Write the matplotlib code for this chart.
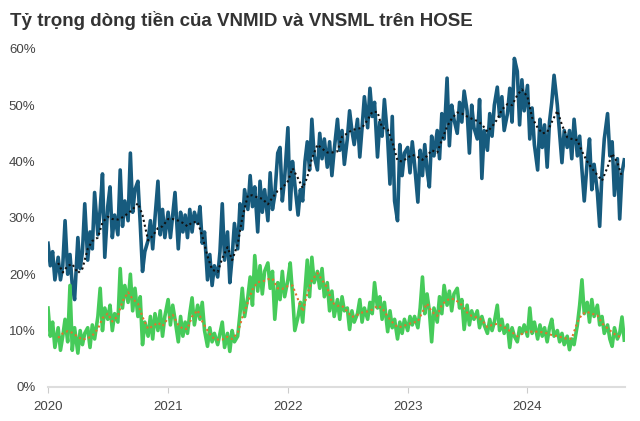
import pandas as pd
import numpy as np
import matplotlib.pyplot as plt
import matplotlib.dates as mdates
from matplotlib.ticker import FuncFormatter

plt.rcParams['font.family'] = ['Liberation Sans', 'DejaVu Sans']

# Ty trong dong tien VNMID / VNSML (%), 4 diem moi thang, T1/2020 -> T10/2024
vnmid = [
    25.5, 21.5, 24.0, 19.0,  23.0, 19.0, 21.5, 29.5,  20.0, 23.5, 18.0, 15.5,
    26.5, 21.0, 24.0, 32.5,  22.5, 27.5, 24.5, 34.5,  27.0, 31.5, 37.8, 23.0,
    32.0, 35.5, 26.5, 30.5,  27.0, 38.5, 28.5, 33.0,  29.5, 41.5, 31.0, 35.0,
    36.5, 29.0, 20.5, 24.0,  26.0, 29.5, 24.5, 30.0,  36.5, 27.0, 31.5, 26.5,
    31.0, 26.5, 30.5, 34.5,  24.5, 31.0, 27.5, 30.5,  26.5, 31.5, 27.5, 31.0,
    29.0, 32.0, 25.5, 27.5,  19.0, 23.5, 18.0, 21.5,  19.5, 24.0, 32.5, 22.5,
    27.5, 18.5, 23.0, 29.0,  24.5, 32.5, 28.0, 35.0,  31.5, 37.5, 32.0, 35.5,
    27.5, 36.5, 31.0, 35.0,  29.5, 38.0, 31.5, 34.0,  41.5, 42.5, 33.0, 37.0,
    46.0, 31.5, 40.0, 36.0,  30.5, 35.0, 33.0, 40.0,  43.5, 38.5, 47.5, 41.0,
    38.5, 45.0, 40.5, 44.0,  39.0, 43.5, 37.5, 42.0,  47.5, 42.0, 45.5, 39.5,
    44.0, 49.0, 45.5, 43.0,  47.5, 40.8, 46.0, 51.5,  46.0, 53.0, 48.0, 50.5,
    40.8, 47.0, 44.5, 51.0,  44.0, 36.0, 48.0, 33.0,  29.5, 43.0, 37.5, 41.5,
    42.5, 38.0, 43.5, 39.5,  32.8, 42.0, 37.5, 43.0,  38.5, 35.5, 44.5, 41.0,
    45.5, 40.5, 48.5, 44.0,  54.8, 42.8, 50.0, 47.5,  45.0, 50.5, 47.0, 52.5,
    49.0, 41.5, 50.0, 46.0,  44.0, 51.0, 37.0, 45.5,  42.0, 48.5, 44.5, 50.0,
    53.2, 48.0, 51.5, 45.5,  48.5, 53.0, 47.0, 58.3,  56.0, 46.5, 54.5, 49.0,
    53.5, 44.0, 49.5, 43.0,  38.5, 47.5, 42.5, 46.5,  39.0, 47.0, 50.5, 55.3,
    50.0, 45.0, 39.8, 45.5,  42.5, 45.5, 40.5, 47.5,  41.0, 44.5, 38.5, 33.0,
    40.0, 44.0, 35.0, 39.5,  34.5, 28.5, 38.0, 44.0,  48.5, 41.0, 43.5, 34.0,
    40.5, 29.8, 38.0, 40.3,
]
vnsml = [
    14.0, 9.0, 11.5, 7.0,  10.5, 6.5, 9.0, 12.0,  8.0, 18.0, 6.5, 10.5,
    6.0, 10.0, 7.5, 9.5,  10.5, 7.0, 11.0, 8.5,  12.5, 17.5, 10.0, 14.0,
    12.0, 14.5, 10.0, 13.0,  11.5, 21.0, 14.0, 18.0,  15.0, 20.0, 13.5, 17.5,
    12.5, 16.0, 7.5, 11.5,  9.0, 12.5, 8.5, 13.0,  10.0, 13.5, 9.0, 12.5,
    15.5, 11.0, 14.5, 12.0,  8.0, 12.5, 9.0, 11.5,  9.5, 13.0, 15.8, 11.0,
    14.5, 12.0, 15.0, 10.0,  7.2, 10.5, 8.0, 9.5,  7.5, 9.5, 11.5, 7.0,
    9.5, 6.3, 10.0, 8.0,  9.0, 13.0, 17.5, 12.5,  16.0, 19.5, 14.5, 23.3,
    17.0, 21.5, 16.5, 20.5,  22.0, 17.5, 20.5, 12.0,  18.5, 15.5, 20.5, 16.0,
    19.0, 22.0, 16.5, 10.0,  12.5, 15.0, 11.5, 17.0,  22.5, 16.0, 23.0, 18.5,
    20.5, 17.5, 21.0, 16.0,  18.5, 13.5, 17.0, 12.5,  15.5, 12.0, 16.0, 13.5,
    14.0, 10.2, 13.5, 11.5,  13.0, 15.5, 11.5, 14.0,  12.0, 15.0, 13.0, 18.5,
    14.0, 16.0, 12.0, 15.0,  9.8, 13.5, 10.5, 12.0,  8.5, 11.5, 9.5, 12.0,
    10.0, 12.5, 11.0, 12.5,  10.5, 14.0, 19.5, 13.0,  16.5, 13.5, 8.0, 14.0,
    11.5, 16.0, 13.0, 18.0,  14.5, 17.0, 13.5, 16.5,  17.5, 14.0, 15.5, 10.2,
    14.5, 11.0, 13.5, 12.0,  13.5, 10.5, 12.5, 11.0,  9.5, 12.0, 10.0, 11.5,
    14.5, 10.0, 12.0, 9.5,  11.0, 7.0, 10.5, 9.0,  8.0, 10.5, 9.5, 11.0,
    9.0, 14.0, 9.5, 11.5,  8.5, 11.0, 9.0, 10.5,  8.0, 10.5, 12.0, 9.0,
    10.0, 8.0, 9.5, 7.5,  9.0, 6.6, 8.5, 7.5,  11.0, 14.5, 19.0, 13.0,
    15.0, 11.5, 15.5, 12.5,  14.5, 11.0, 12.5, 9.5,  11.0, 8.5, 7.2, 10.5,
    8.5, 9.5, 12.4, 8.3,
]

# Duong trung binh (2 diem moi thang, T2/2020 -> T10/2024)
vnmid_ma = [
    22.0, 20.3, 21.5, 21.8, 20.2, 21.0, 24.5, 25.9, 26.5, 29.2, 30.2, 29.8,
    29.7, 30.1, 30.8, 31.5, 32.6, 30.5, 26.0, 26.8, 28.2, 28.5,
    29.8, 29.8, 29.5, 29.1, 28.5, 29.2, 29.3, 26.8, 23.2, 20.8, 20.4, 22.8,
    24.8, 22.5, 25.3, 30.0, 34.0, 34.0, 33.6, 33.4, 32.4, 33.6, 34.8, 35.3,
    36.5, 38.8, 37.0, 35.3, 37.2, 40.5, 43.0, 42.3, 41.6, 41.6, 41.8, 44.4,
    45.0, 45.6, 45.8, 46.0, 47.4, 48.8, 48.8, 46.0, 45.7, 43.5, 40.2, 40.0,
    40.7, 41.2, 40.8, 40.3, 41.0, 42.0, 41.6, 43.8, 46.2, 47.6, 48.7, 48.5,
    48.0, 47.6, 47.2, 46.6, 45.3, 46.2, 47.5, 49.2, 50.2, 50.0, 51.8, 52.8,
    51.5, 47.8, 46.0, 45.0, 45.2, 47.0, 49.0, 46.5, 44.3, 44.0, 43.8, 41.8,
    40.0, 38.8, 37.6, 36.6, 39.0, 41.4, 39.8, 37.3,
]
vnsml_ma = [
    8.7, 9.5, 9.9, 9.6, 8.9, 8.4, 8.6, 9.1, 10.3, 12.2, 13.0, 11.6,
    12.6, 15.2, 16.8, 15.6, 14.8, 12.4, 10.3, 10.8, 11.4, 10.8,
    12.2, 12.8, 11.0, 10.3, 10.3, 12.5, 13.6, 11.6, 10.0, 8.8, 8.4, 8.4,
    8.9, 8.5, 9.6, 12.3, 15.0, 17.3, 18.6, 18.7, 19.1, 19.2, 17.5, 17.4,
    17.9, 18.0, 15.5, 13.4, 16.5, 18.9, 20.2, 19.0, 17.6, 15.0, 14.4, 14.4,
    13.4, 12.4, 12.8, 13.2, 13.4, 13.7, 14.4, 14.0, 12.5, 11.5, 10.6, 10.7,
    11.1, 11.4, 11.6, 13.3, 14.8, 13.4, 12.6, 14.6, 15.4, 15.7, 15.2, 14.5,
    13.2, 12.6, 12.3, 11.9, 10.6, 11.0, 11.2, 10.8, 10.2, 9.7, 9.0, 9.4,
    9.8, 9.8, 9.8, 9.7, 9.5, 9.2, 9.0, 8.8, 8.5, 8.6, 11.5, 12.9,
    13.3, 13.0, 12.7, 11.3, 10.4, 9.7, 9.0, 8.9,
]

months = pd.date_range('2020-01-01', '2024-10-01', freq='MS')
dates = [m + pd.Timedelta(days=d) for m in months for d in (0, 7, 14, 21)]
ma_dates = [m + pd.Timedelta(days=d) for m in months[1:] for d in (0, 14)]

fig = plt.figure(figsize=(6.4, 4.21), dpi=100)
ax = fig.add_axes([0.075, 0.081, 0.902, 0.803])

ax.plot(dates, vnmid, color='#175b7e', lw=2.6, solid_joinstyle='round')
ax.plot(ma_dates, vnmid_ma, color='#111111', lw=1.5, ls=(0, (1, 1.4)))
ax.plot(dates, vnsml, color='#46cb5a', lw=2.6, solid_joinstyle='round')
ax.plot(ma_dates, vnsml_ma, color='#e0712d', lw=1.5, ls=(0, (1, 1.4)))

ax.set_ylim(0, 60)
ax.set_yticks(range(0, 61, 10))
ax.yaxis.set_major_formatter(FuncFormatter(lambda v, p: f'{v:.0f}%'))
ax.set_xlim(pd.Timestamp('2020-01-01'), pd.Timestamp('2024-10-25'))
ax.xaxis.set_major_locator(mdates.YearLocator())
ax.xaxis.set_major_formatter(mdates.DateFormatter('%Y'))

for s in ['top', 'right', 'left']:
    ax.spines[s].set_visible(False)
ax.spines['bottom'].set_color('#dddddd')
ax.spines['bottom'].set_linewidth(1.5)
ax.tick_params(axis='y', length=0, pad=9, labelsize=9.5, labelcolor='#444444')
ax.tick_params(axis='x', length=4, color='#cccccc', pad=6, labelsize=9.5, labelcolor='#444444')

fig.text(0.016, 0.952, 'Tỷ trọng dòng tiền của VNMID và VNSML trên HOSE',
         fontsize=13.5, fontweight='bold', color='#333333', va='center')

plt.savefig('out.png', dpi=100)
